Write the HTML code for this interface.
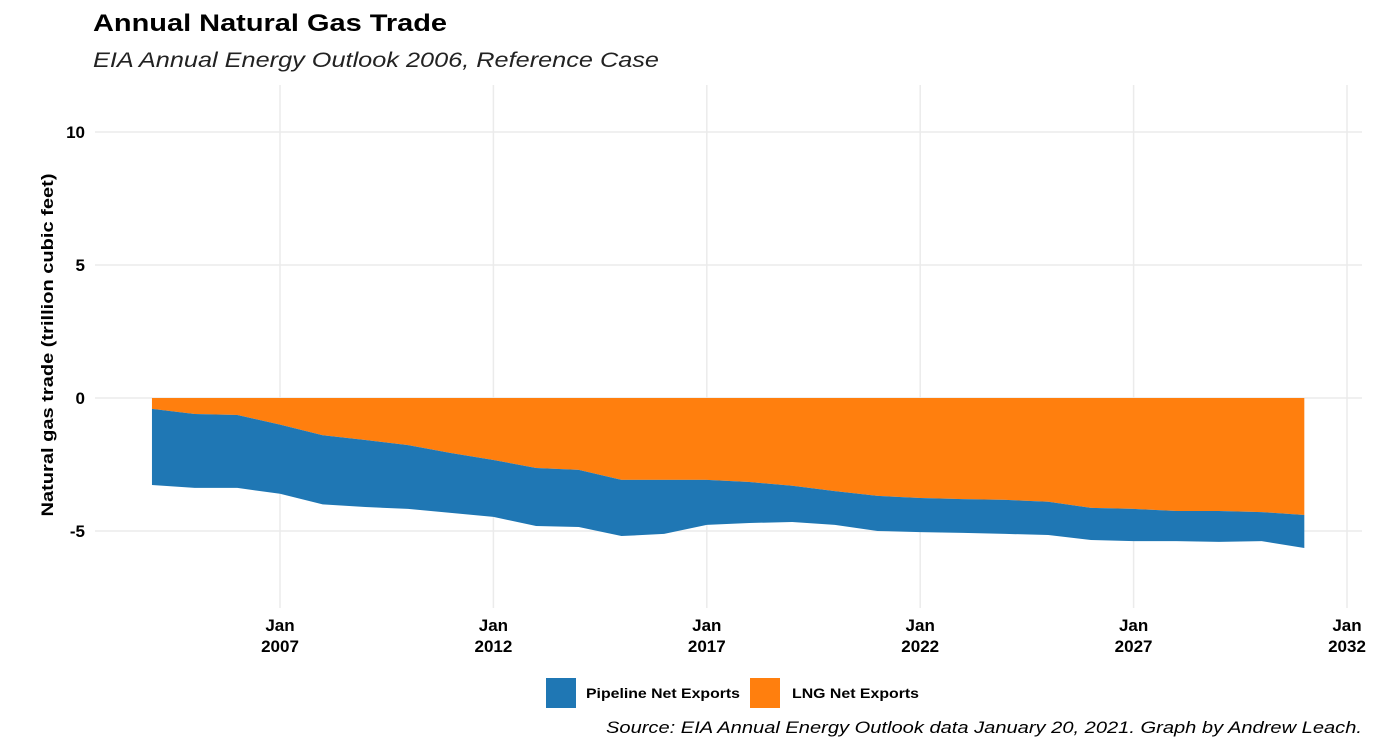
<!DOCTYPE html>
<html><head><meta charset="utf-8"><style>
body{margin:0;background:#fff;font-family:"Liberation Sans",sans-serif}
</style></head><body>
<svg id="c" width="1400" height="750" xmlns="http://www.w3.org/2000/svg" font-family="Liberation Sans, sans-serif">
<text x="93" y="31" font-size="24" font-weight="bold" textLength="354" lengthAdjust="spacingAndGlyphs">Annual Natural Gas Trade</text>
<text x="93" y="67" font-size="21" font-style="italic" fill="#222" textLength="566" lengthAdjust="spacingAndGlyphs">EIA Annual Energy Outlook 2006, Reference Case</text>
<g id="grid"></g><g id="marks"></g><g id="axes"></g>
<text transform="translate(53,345) rotate(-90)" text-anchor="middle" font-size="17" font-weight="bold" textLength="343" lengthAdjust="spacingAndGlyphs">Natural gas trade (trillion cubic feet)</text>
<rect x="546" y="678" width="30" height="30" fill="#1f77b4"/>
<text x="586" y="698" font-size="14" font-weight="bold" textLength="154" lengthAdjust="spacingAndGlyphs">Pipeline Net Exports</text>
<rect x="750" y="678" width="30" height="30" fill="#ff7f0e"/>
<text x="792" y="698" font-size="14" font-weight="bold" textLength="127" lengthAdjust="spacingAndGlyphs">LNG Net Exports</text>
<text x="606" y="733" font-size="17" font-style="italic" textLength="756" lengthAdjust="spacingAndGlyphs">Source: EIA Annual Energy Outlook data January 20, 2021. Graph by Andrew Leach.</text>
</svg>
<script>
const years=[2004,2005,2006,2007,2008,2009,2010,2011,2012,2013,2014,2015,2016,2017,2018,2019,2020,2021,2022,2023,2024,2025,2026,2027,2028,2029,2030,2031];
const lng=[-0.41,-0.6,-0.64,-1.0,-1.4,-1.58,-1.77,-2.07,-2.33,-2.63,-2.7,-3.08,-3.08,-3.08,-3.16,-3.3,-3.5,-3.68,-3.76,-3.8,-3.83,-3.9,-4.13,-4.17,-4.25,-4.25,-4.29,-4.4];
const pipeline=[-2.86,-2.78,-2.74,-2.6,-2.6,-2.52,-2.4,-2.25,-2.14,-2.18,-2.15,-2.11,-2.03,-1.69,-1.54,-1.36,-1.27,-1.32,-1.28,-1.27,-1.28,-1.25,-1.21,-1.21,-1.13,-1.16,-1.09,-1.24];
const yTicks=[-5,0,5,10];
const xTicks=[2007,2012,2017,2022,2027,2032];
const NS="http://www.w3.org/2000/svg";
const X=y=>280+(y-2007)*42.68;
const Y=v=>398-v*26.6;
function el(t,a,p){const e=document.createElementNS(NS,t);for(const k in a)e.setAttribute(k,a[k]);document.getElementById(p).appendChild(e);return e;}
yTicks.forEach(t=>{
 const l=el('line',{x1:95,x2:1362,y1:Y(t),y2:Y(t),stroke:'#ebebeb','stroke-width':1.5},'grid');
 
 
 const tx=el('text',{x:85,y:Y(t)+6,'text-anchor':'end','font-size':17,'font-weight':'bold'},'axes');
 tx.textContent=t;
 
 
});
xTicks.forEach(t=>{
 const l=el('line',{x1:X(t),x2:X(t),y1:85,y2:608,stroke:'#ebebeb','stroke-width':1.5},'grid');
 
 
 const tx=el('text',{x:X(t),y:631,'text-anchor':'middle','font-size':17,'font-weight':'bold'},'axes');
 tx.innerHTML='<tspan x="'+X(t)+'">Jan</tspan><tspan x="'+X(t)+'" dy="21">'+t+'</tspan>';
 
 
});
const topPts=[],botPts=[],zeroPts=[];
years.forEach((y,i)=>{zeroPts.push([X(y),Y(0)]);topPts.push([X(y),Y(lng[i])]);botPts.push([X(y),Y(lng[i]+pipeline[i])]);});
const poly=(a,b)=>a.concat(b.slice().reverse()).map(p=>p.join(',')).join(' ');
const o=el('polygon',{points:poly(zeroPts,topPts),fill:'#ff7f0e'},'marks');


const b=el('polygon',{points:poly(topPts,botPts),fill:'#1f77b4'},'marks');


</script>
</body></html>
